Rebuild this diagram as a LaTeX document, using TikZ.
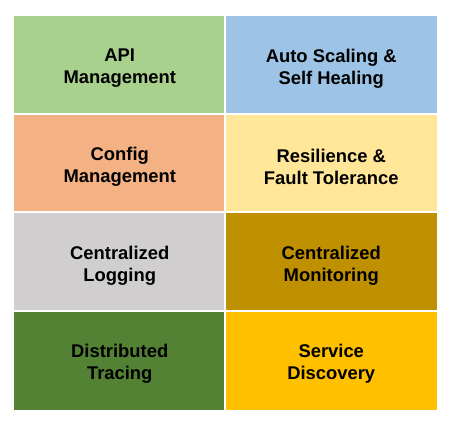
\documentclass[tikz,border=0pt]{standalone}
\usepackage{fontspec}
\setmainfont{Liberation Sans}
\usepackage{xcolor}
\definecolor{CellGreen}{HTML}{A9D18E}
\definecolor{CellBlue}{HTML}{9DC3E6}
\definecolor{CellOrange}{HTML}{F4B183}
\definecolor{CellYellow}{HTML}{FFE699}
\definecolor{CellGray}{HTML}{D0CECE}
\definecolor{CellDarkGold}{HTML}{BF9000}
\definecolor{CellDarkGreen}{HTML}{548235}
\definecolor{CellGold}{HTML}{FFC000}

\begin{document}
\begin{tikzpicture}[
x=0.75pt,y=-0.75pt,
cell/.style={rectangle,draw=white,line width=1.5pt,outer sep=0pt,
minimum width=160pt,minimum height=75.2pt},
celltext/.style={align=center,yshift=-2.3pt,
font=\fontsize{13.8}{16.5}\selectfont\bfseries}
]
\useasboundingbox (0,0) rectangle (455,423);
\node[cell,fill=CellGreen,label={[celltext]center:{API\\Management}}] (api) at (119.75,65.25) {};
\node[cell,fill=CellBlue,label={[celltext]center:{Auto Scaling \&\\Self Healing}}] (scaling) at (331.25,65.25) {};
\node[cell,fill=CellOrange,label={[celltext]center:{Config\\Management}}] (config) at (119.75,163.75) {};
\node[cell,fill=CellYellow,label={[celltext]center:{Resilience \&\\Fault Tolerance}}] (resilience) at (331.25,163.75) {};
\node[cell,fill=CellGray,label={[celltext]center:{Centralized\\Logging}}] (logging) at (119.75,262.25) {};
\node[cell,fill=CellDarkGold,label={[celltext]center:{Centralized\\Monitoring}}] (monitoring) at (331.25,262.25) {};
\node[cell,fill=CellDarkGreen,label={[celltext]center:{Distributed\\Tracing}}] (tracing) at (119.75,360.75) {};
\node[cell,fill=CellGold,label={[celltext]center:{Service\\Discovery}}] (discovery) at (331.25,360.75) {};
\end{tikzpicture}
\end{document}
